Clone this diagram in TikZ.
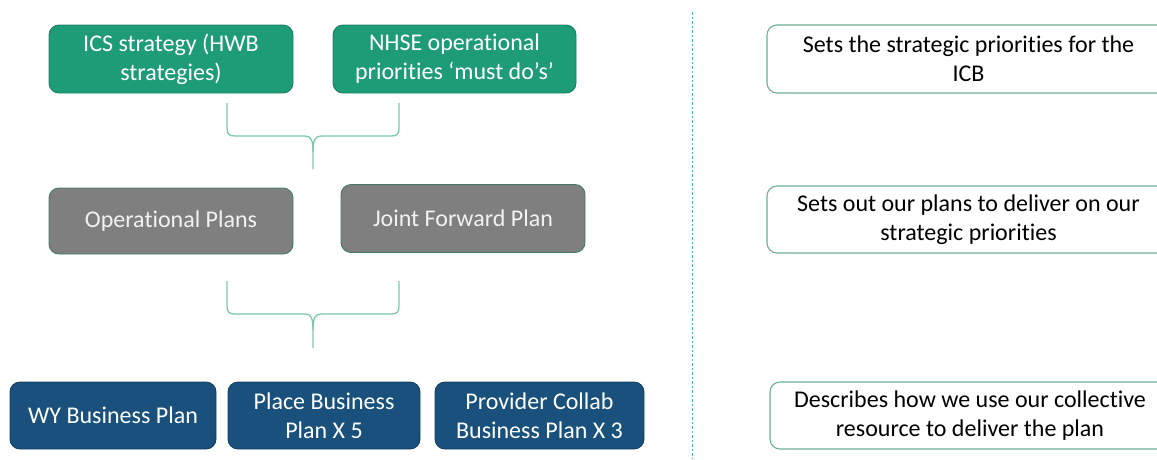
\documentclass[tikz,border=0pt]{standalone}
\usepackage{fontspec}
\setmainfont{Carlito}[Ligatures=NoCommon]
\definecolor{icsgreen}{HTML}{1E9B77}
\definecolor{icsgreenline}{HTML}{17805F}
\definecolor{plangray}{HTML}{7F7F7F}
\definecolor{planline}{HTML}{3E7B64}
\definecolor{bizblue}{HTML}{19517C}
\definecolor{bizline}{HTML}{153F60}
\definecolor{bracecol}{HTML}{7CC7AE}
\definecolor{notecol}{HTML}{6CAF96}
\definecolor{dashcol}{HTML}{4FBF9A}
\begin{document}
\begin{tikzpicture}[x=1pt,y=-1pt,
  box/.style={rounded corners=10pt, line width=0.9pt, align=center,
    inner sep=0pt, font=\fontsize{24}{29}\selectfont},
  strat/.style={box, fill=icsgreen, draw=icsgreenline, text=white},
  plan/.style={box, fill=plangray, draw=planline, text=white!95!black},
  biz/.style={box, fill=bizblue, draw=bizline, text=white},
  note/.style={box, fill=white, draw=notecol, line width=1.1pt, text=black},
  bracket/.style={draw=bracecol, line width=1.3pt}]
\useasboundingbox (0,0) rectangle (1157,459);
\clip (0,0) rectangle (1157,459);

% top level: strategies
\node[strat, minimum width=244pt, minimum height=68pt] (ics) at (171,59)
  {ICS strategy (HWB\\strategies)};
\node[strat, minimum width=243pt, minimum height=68pt] (nhse) at (454.5,59)
  {NHSE operational\\priorities ‘must do’s’};

% middle level: plans
\node[plan, minimum width=244pt, minimum height=66pt] (ops) at (171,221)
  {Operational Plans};
\node[plan, minimum width=244pt, minimum height=68pt] (jfp) at (463,218.5)
  {Joint Forward Plan};

% bottom level: business plans
\node[biz, minimum width=206pt, minimum height=67pt] (wy) at (113,415.5)
  {WY Business Plan};
\node[biz, minimum width=192pt, minimum height=67pt] (place) at (324,415.5)
  {Place Business\\Plan X 5};
\node[biz, minimum width=209pt, minimum height=67pt] (prov) at (539.5,415.5)
  {Provider Collab\\Business Plan X 3};

% braces joining the levels
\coordinate (b1l) at (227,103);
\coordinate (b1r) at (399,103);
\coordinate (b1t) at (313,169);
\draw[bracket] (b1l) -- (227,128) .. controls (227,134) and (229,136) .. (235,136)
  -- (305,136) .. controls (311,136) and (313,140) .. (313,152) -- (b1t);
\draw[bracket] (b1r) -- (399,128) .. controls (399,134) and (397,136) .. (391,136)
  -- (321,136) .. controls (315,136) and (313,140) .. (313,152);

\coordinate (b2l) at (227,281);
\coordinate (b2r) at (399,281);
\coordinate (b2t) at (313,348);
\draw[bracket] (b2l) -- (227,306) .. controls (227,312) and (229,314) .. (235,314)
  -- (305,314) .. controls (311,314) and (313,318) .. (313,330) -- (b2t);
\draw[bracket] (b2r) -- (399,306) .. controls (399,312) and (397,314) .. (391,314)
  -- (321,314) .. controls (315,314) and (313,318) .. (313,330);

% divider
\coordinate (dtop) at (692,12);
\coordinate (dbot) at (692,459);
\draw[dashcol, line width=0.9pt, dash pattern=on 2.5pt off 2pt] (dtop) -- (dbot);

% descriptions
\node[note, minimum width=403pt, minimum height=68pt] (n1) at (968.5,59)
  {Sets the strategic priorities for the\\ICB};
\node[note, minimum width=403pt, minimum height=67pt] (n2) at (968.5,219.5)
  {Sets out our plans to deliver on our\\strategic priorities};
\node[note, minimum width=400pt, minimum height=67pt] (n3) at (970,415.5)
  {Describes how we use our collective\\resource to deliver the plan};
\end{tikzpicture}
\end{document}
